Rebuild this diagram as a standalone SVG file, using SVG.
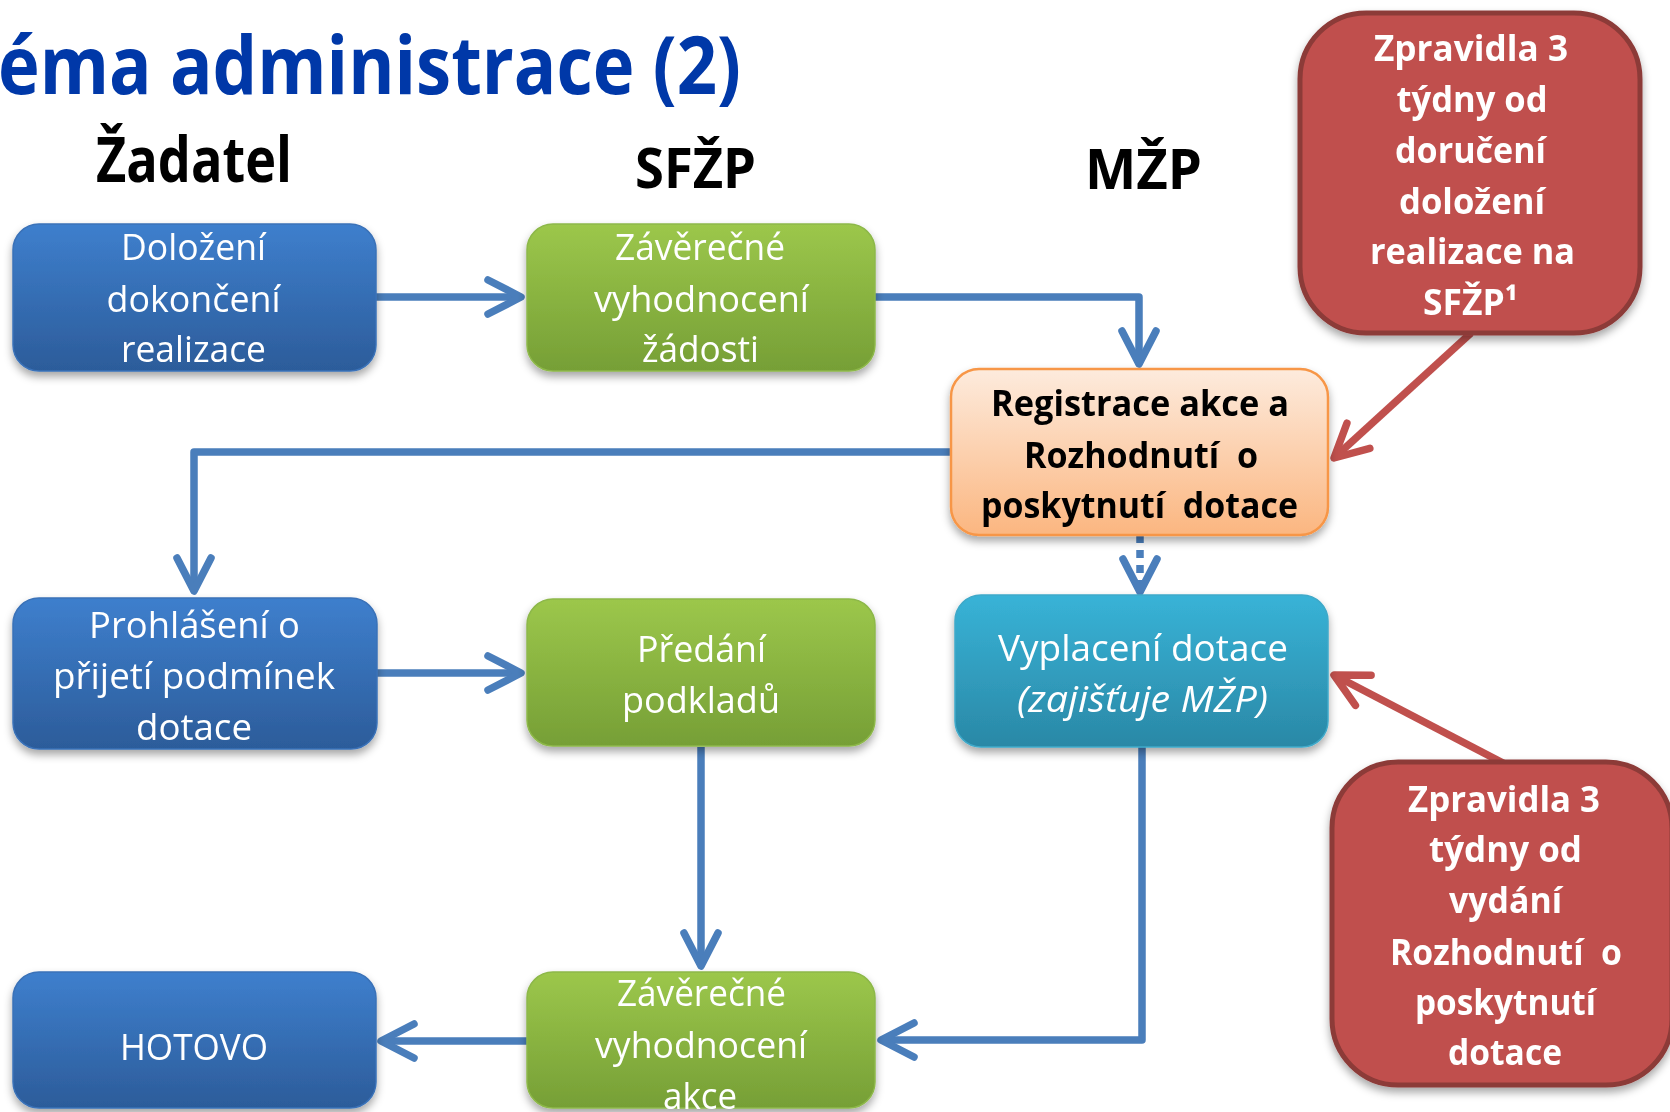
<svg xmlns="http://www.w3.org/2000/svg" width="1670" height="1112" viewBox="0 0 1670 1112">
<defs>
<linearGradient id="gBlue" x1="0" y1="0" x2="0" y2="1"><stop offset="0" stop-color="#3E7FCD"/><stop offset="1" stop-color="#2C5C9A"/></linearGradient>
<linearGradient id="gGreen" x1="0" y1="0" x2="0" y2="1"><stop offset="0" stop-color="#9CC74B"/><stop offset="1" stop-color="#769F36"/></linearGradient>
<linearGradient id="gOrange" x1="0" y1="0" x2="0" y2="1"><stop offset="0" stop-color="#FDEBDD"/><stop offset="1" stop-color="#FBB680"/></linearGradient>
<linearGradient id="gCyan" x1="0" y1="0" x2="0" y2="1"><stop offset="0" stop-color="#38B3D7"/><stop offset="1" stop-color="#2A88A6"/></linearGradient>
<filter id="sh" x="-10%" y="-10%" width="120%" height="130%"><feDropShadow dx="0" dy="5" stdDeviation="4" flood-color="#000" flood-opacity="0.35"/></filter>
<marker id="aB" markerUnits="userSpaceOnUse" markerWidth="60" markerHeight="60" refX="0" refY="0" orient="auto" overflow="visible"><path d="M-33,-17 L0,0 L-33,17" fill="none" stroke="#4A7EBB" stroke-width="7.5" stroke-linecap="round" stroke-linejoin="round"/></marker>
<marker id="aR" markerUnits="userSpaceOnUse" markerWidth="60" markerHeight="60" refX="0" refY="0" orient="auto" overflow="visible"><path d="M-33,-17 L0,0 L-33,17" fill="none" stroke="#C0504D" stroke-width="7.5" stroke-linecap="round" stroke-linejoin="round"/></marker>
</defs>
<style>
.t{font-family:"Open Sans","Noto Sans",sans-serif;font-size:36px;text-anchor:middle;fill:#fff}
.b{font-weight:bold}
.k{fill:#000}
.h{font-family:"Open Sans","Noto Sans",sans-serif;font-weight:bold;fill:#000;text-anchor:middle}
.c{fill:none;stroke:#4A7EBB;stroke-width:7.5;stroke-linejoin:round}
.r{fill:none;stroke:#C0504D;stroke-width:7.5;stroke-linecap:butt}
.box{filter:url(#sh)}
</style>
<rect width="1670" height="1112" fill="#fff"/>
<g id="title">
<text x="-2" y="94" font-family="Open Sans, Noto Sans, sans-serif" font-weight="bold" font-size="80" fill="#0038A8" textLength="743" lengthAdjust="spacingAndGlyphs">éma administrace (2)</text>
</g>
<g id="headers">
<text class="h" x="194" y="182" font-size="62" textLength="196" lengthAdjust="spacingAndGlyphs">Žadatel</text>
<text class="h" x="695.5" y="188" font-size="55" textLength="121" lengthAdjust="spacingAndGlyphs">SFŽP</text>
<text class="h" x="1143.5" y="189" font-size="55" textLength="117" lengthAdjust="spacingAndGlyphs">MŽP</text>
</g>
<g id="connectors">
<path class="c" d="M376,297 H521" marker-end="url(#aB)"/>
<path class="c" d="M875,297 H1139 V364" marker-end="url(#aB)"/>
<path class="c" d="M951,452 H194 V591" marker-end="url(#aB)"/>
<path class="c" d="M1140,535 V590" stroke-dasharray="8 7" />
<path class="c" d="M1140,591 V592" marker-end="url(#aB)"/>
<path class="c" d="M377,673 H521" marker-end="url(#aB)"/>
<path class="c" d="M701,747 V966" marker-end="url(#aB)"/>
<path class="c" d="M1142,747 V1040 H881" marker-end="url(#aB)"/>
<path class="c" d="M527,1041 H381" marker-end="url(#aB)"/>
<path class="r" d="M1471,333 L1334,458" marker-end="url(#aR)"/>
<path class="r" d="M1505,764 L1334,675" marker-end="url(#aR)"/>
</g>
<g id="n1" class="box">
<rect x="13" y="224" width="363" height="147" rx="26" fill="url(#gBlue)" stroke="#3A72B8" stroke-width="1.5"/>
<text class="t" x="193.5" y="260" textLength="145" lengthAdjust="spacingAndGlyphs">Doložení</text>
<text class="t" x="193.5" y="312" textLength="174" lengthAdjust="spacingAndGlyphs">dokončení</text>
<text class="t" x="193.5" y="362" textLength="145" lengthAdjust="spacingAndGlyphs">realizace</text>
</g>
<g id="n2" class="box">
<rect x="527" y="224" width="348" height="147" rx="26" fill="url(#gGreen)" stroke="#8DB849" stroke-width="1.5"/>
<text class="t" x="700" y="260" textLength="170" lengthAdjust="spacingAndGlyphs">Závěrečné</text>
<text class="t" x="701.5" y="312" textLength="215" lengthAdjust="spacingAndGlyphs">vyhodnocení</text>
<text class="t" x="700.5" y="362" textLength="117" lengthAdjust="spacingAndGlyphs">žádosti</text>
</g>
<g id="n3" class="box">
<rect x="951" y="369" width="377" height="166" rx="28" fill="url(#gOrange)" stroke="#F79646" stroke-width="2.5"/>
<text class="t b k" x="1140" y="416" textLength="298" lengthAdjust="spacingAndGlyphs">Registrace akce a</text>
<text class="t b k" x="1141" y="468" textLength="234" lengthAdjust="spacingAndGlyphs" xml:space="preserve">Rozhodnutí  o</text>
<text class="t b k" x="1139.5" y="518" textLength="317" lengthAdjust="spacingAndGlyphs" xml:space="preserve">poskytnutí  dotace</text>
</g>
<g id="n4" class="box">
<rect x="1300" y="13" width="340" height="320" rx="66" fill="#C0504D" stroke="#8C3A38" stroke-width="5"/>
<text class="t b" x="1471" y="61" textLength="194" lengthAdjust="spacingAndGlyphs">Zpravidla 3</text>
<text class="t b" x="1472" y="112" textLength="151" lengthAdjust="spacingAndGlyphs">týdny od</text>
<text class="t b" x="1470.5" y="163" textLength="151" lengthAdjust="spacingAndGlyphs">doručení</text>
<text class="t b" x="1472" y="214" textLength="146" lengthAdjust="spacingAndGlyphs">doložení</text>
<text class="t b" x="1472.5" y="264" textLength="205" lengthAdjust="spacingAndGlyphs">realizace na</text>
<text class="t b" x="1470.5" y="315" textLength="95" lengthAdjust="spacingAndGlyphs">SFŽP¹</text>
</g>
<g id="n5" class="box">
<rect x="13" y="598" width="364" height="151" rx="26" fill="url(#gBlue)" stroke="#3A72B8" stroke-width="1.5"/>
<text class="t" x="194.5" y="638" textLength="211" lengthAdjust="spacingAndGlyphs">Prohlášení o</text>
<text class="t" x="194" y="689" textLength="282" lengthAdjust="spacingAndGlyphs">přijetí podmínek</text>
<text class="t" x="194" y="740" textLength="116" lengthAdjust="spacingAndGlyphs">dotace</text>
</g>
<g id="n6" class="box">
<rect x="527" y="599" width="348" height="147" rx="26" fill="url(#gGreen)" stroke="#8DB849" stroke-width="1.5"/>
<text class="t" x="701.5" y="662" textLength="129" lengthAdjust="spacingAndGlyphs">Předání</text>
<text class="t" x="701" y="713" textLength="158" lengthAdjust="spacingAndGlyphs">podkladů</text>
</g>
<g id="n7" class="box">
<rect x="955" y="595" width="373" height="152" rx="26" fill="url(#gCyan)" stroke="#3FA9C9" stroke-width="1.5"/>
<text class="t" x="1143" y="661" textLength="290" lengthAdjust="spacingAndGlyphs">Vyplacení dotace</text>
<text class="t" x="1142.5" y="712" font-style="italic" textLength="251" lengthAdjust="spacingAndGlyphs">(zajišťuje MŽP)</text>
</g>
<g id="n8" class="box">
<rect x="1332" y="762" width="340" height="323" rx="66" fill="#C0504D" stroke="#8C3A38" stroke-width="5"/>
<text class="t b" x="1504" y="812" textLength="192" lengthAdjust="spacingAndGlyphs">Zpravidla 3</text>
<text class="t b" x="1505.5" y="862" textLength="153" lengthAdjust="spacingAndGlyphs">týdny od</text>
<text class="t b" x="1505.5" y="913" textLength="113" lengthAdjust="spacingAndGlyphs">vydání</text>
<text class="t b" x="1506" y="965" textLength="232" lengthAdjust="spacingAndGlyphs" xml:space="preserve">Rozhodnutí  o</text>
<text class="t b" x="1505.5" y="1015" textLength="181" lengthAdjust="spacingAndGlyphs">poskytnutí</text>
<text class="t b" x="1505" y="1065" textLength="114" lengthAdjust="spacingAndGlyphs">dotace</text>
</g>
<g id="n9" class="box">
<rect x="13" y="972" width="363" height="136" rx="26" fill="url(#gBlue)" stroke="#3A72B8" stroke-width="1.5"/>
<text class="t" x="194" y="1060" textLength="148" lengthAdjust="spacingAndGlyphs">HOTOVO</text>
</g>
<g id="n10" class="box">
<rect x="527" y="972" width="348" height="136" rx="26" fill="url(#gGreen)" stroke="#8DB849" stroke-width="1.5"/>
<text class="t" x="701.5" y="1006" textLength="169" lengthAdjust="spacingAndGlyphs">Závěrečné</text>
<text class="t" x="701" y="1058" textLength="212" lengthAdjust="spacingAndGlyphs">vyhodnocení</text>
<text class="t" x="700" y="1109" textLength="74" lengthAdjust="spacingAndGlyphs">akce</text>
</g>
</svg>
